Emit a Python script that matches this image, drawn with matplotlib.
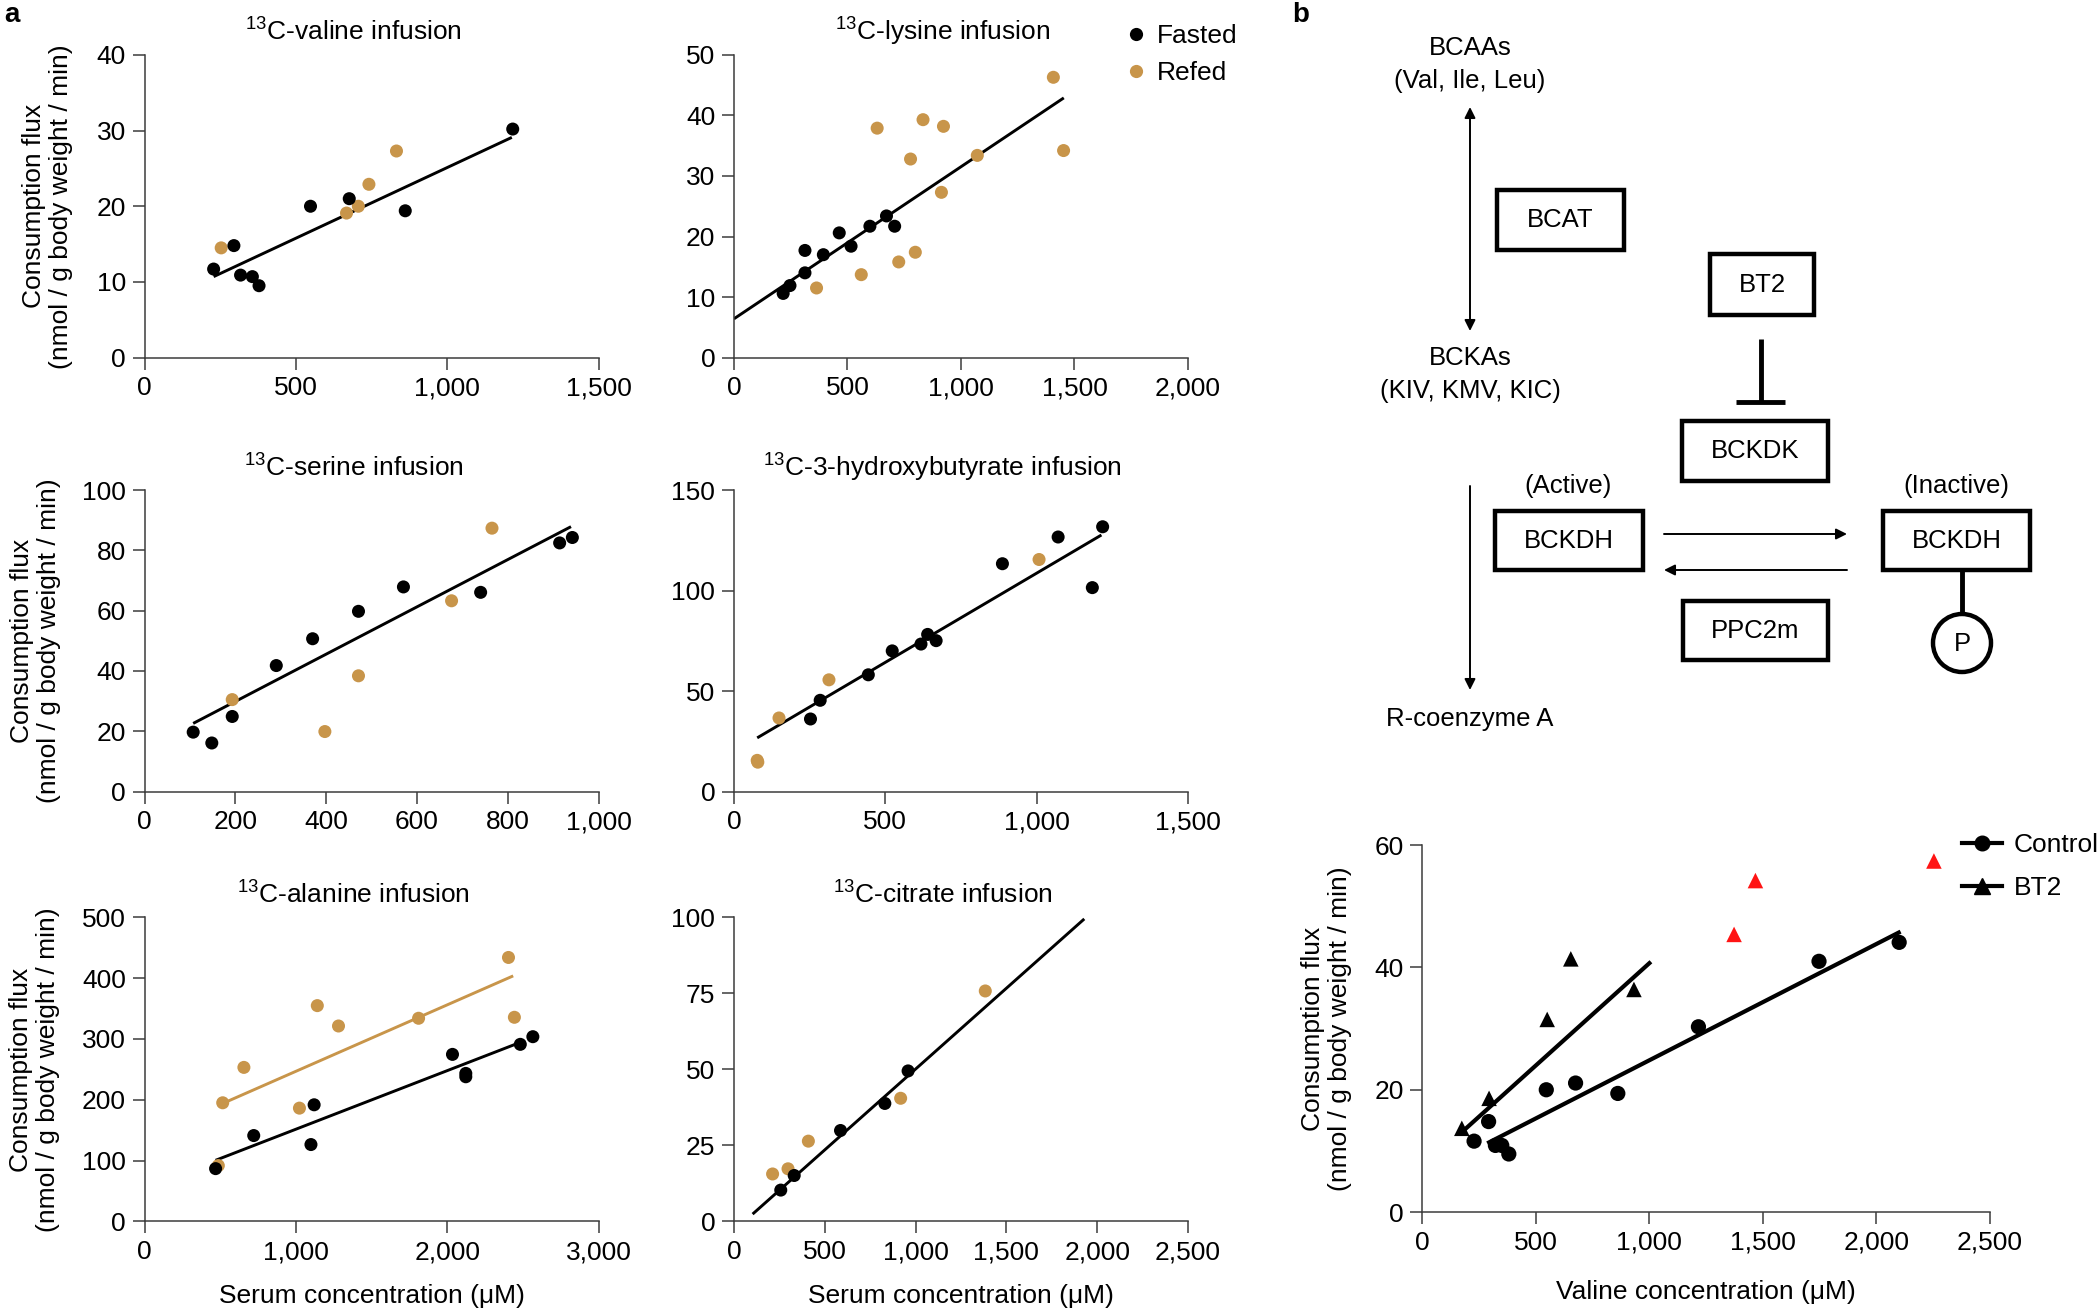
import numpy as np
import matplotlib
matplotlib.use('Agg')
import matplotlib.pyplot as plt
from matplotlib.ticker import FuncFormatter, MultipleLocator
from matplotlib.lines import Line2D
from matplotlib.patches import Rectangle, Circle

plt.rcParams['font.family'] = ['Liberation Sans', 'DejaVu Sans']
plt.rcParams['mathtext.fontset'] = 'custom'
plt.rcParams['mathtext.rm'] = 'Liberation Sans'
plt.rcParams['mathtext.default'] = 'rm'

BLACK = '#000000'
TAN = '#C8954A'
RED = '#FF1414'
AXC = '#3c3c3c'

# ---------------- data ----------------
# 13C-valine
val_fast_x = [228, 295, 317, 356, 378, 548, 676, 861, 1216]
val_fast_y = [11.7, 14.8, 10.9, 10.7, 9.5, 20.0, 21.0, 19.4, 30.2]
val_fed_x = [253, 667, 706, 741, 832]
val_fed_y = [14.5, 19.1, 20.0, 22.9, 27.3]
val_fit_x = [228, 1213]
val_fit_y = [10.7, 29.1]

# 13C-lysine
lys_fast_x = [217, 247, 313, 313, 394, 464, 516, 599, 672, 708]
lys_fast_y = [10.6, 11.9, 14.0, 17.7, 17.0, 20.6, 18.4, 21.7, 23.4, 21.7]
lys_fed_x = [364, 561, 631, 726, 778, 799, 833, 914, 923, 1072, 1407, 1452]
lys_fed_y = [11.5, 13.7, 37.9, 15.8, 32.8, 17.4, 39.3, 27.3, 38.2, 33.4, 46.3, 34.2]
lys_fit_x = [0, 1453]
lys_fit_y = [6.4, 42.9]

# 13C-serine
ser_fast_x = [107, 148, 193, 290, 370, 471, 570, 740, 914, 942]
ser_fast_y = [19.7, 16.1, 24.9, 41.8, 50.7, 59.8, 67.9, 66.1, 82.5, 84.3]
ser_fed_x = [193, 397, 471, 676, 765]
ser_fed_y = [30.5, 19.9, 38.4, 63.3, 87.4]
ser_fit_x = [107, 939]
ser_fit_y = [22.6, 87.9]

# 13C-3-hydroxybutyrate
hb_fast_x = [253, 285, 444, 523, 618, 640, 668, 887, 1071, 1184, 1218]
hb_fast_y = [36.1, 45.4, 58.1, 70.0, 73.4, 78.2, 75.1, 113.4, 126.7, 101.5, 131.8]
hb_fed_x = [77, 79, 149, 314, 1008]
hb_fed_y = [15.5, 14.6, 36.6, 55.6, 115.5]
hb_fit_x = [77, 1214]
hb_fit_y = [26.7, 127.7]

# 13C-alanine
ala_fast_x = [469, 721, 1099, 1120, 2034, 2122, 2122, 2482, 2565]
ala_fast_y = [86.8, 141.2, 126.4, 191.8, 274.7, 243.4, 237.9, 291.2, 303.8]
ala_fed_x = [487, 516, 656, 1023, 1141, 1281, 1810, 2404, 2443]
ala_fed_y = [91.8, 195.1, 253.3, 186.3, 354.9, 321.4, 334.1, 434.1, 335.7]
ala_fast_fit_x = [469, 2448]
ala_fast_fit_y = [100.5, 291.2]
ala_fed_fit_x = [516, 2435]
ala_fed_fit_y = [194.0, 403.8]

# 13C-citrate
cit_fast_x = [258, 332, 587, 831, 959]
cit_fast_y = [10.3, 15.1, 29.9, 38.8, 49.5]
cit_fed_x = [213, 298, 410, 918, 1384]
cit_fed_y = [15.6, 17.3, 26.4, 40.5, 75.8]
cit_fit_x = [103, 1929]
cit_fit_y = [2.4, 99.5]

# panel b: valine, control vs BT2
ctl_x = [228, 292, 322, 350, 381, 546, 675, 861, 1216, 1747, 2100]
ctl_y = [11.6, 14.8, 10.9, 10.9, 9.5, 20.0, 21.1, 19.4, 30.3, 41.0, 44.1]
bt2_x = [174, 294, 550, 654, 932]
bt2_y = [13.7, 18.6, 31.5, 41.4, 36.4]
bt2_red_x = [1373, 1467, 2253]
bt2_red_y = [45.4, 54.2, 57.4]
ctl_fit_x = [294, 2098]
ctl_fit_y = [11.4, 45.7]
bt2_fit_x = [172, 1000]
bt2_fit_y = [13.0, 40.7]

series_labels = ['Fasted', 'Refed']
b_labels = ['Control', 'BT2']

# ---------------- figure ----------------
W, H = 2100, 1313
fig = plt.figure(figsize=(W / 100, H / 100), dpi=100)

# diagram canvas in pixel coordinates (drawn first, underneath)
d = fig.add_axes([0, 0, 1, 1])
d.set_xlim(0, W)
d.set_ylim(H, 0)
d.axis('off')


def px_axes(x0, x1, y_top, y_bot):
    return fig.add_axes([x0 / W, 1 - y_bot / H, (x1 - x0) / W, (y_bot - y_top) / H])


comma = FuncFormatter(lambda v, p: f'{v:,.0f}')
FS = 19


def style(ax, xmax, xstep, ymax, ystep):
    for s in ['top', 'right']:
        ax.spines[s].set_visible(False)
    for s in ['left', 'bottom']:
        ax.spines[s].set_linewidth(1.1)
        ax.spines[s].set_color(AXC)
    ax.set_xlim(0, xmax)
    ax.set_ylim(0, ymax)
    ax.xaxis.set_major_locator(MultipleLocator(xstep))
    ax.yaxis.set_major_locator(MultipleLocator(ystep))
    ax.xaxis.set_major_formatter(comma)
    ax.tick_params(direction='out', length=8.5, width=1.1, color=AXC, labelsize=FS, pad=5)
    ax.patch.set_alpha(0)


def panel(ax, fast_x, fast_y, fed_x, fed_y, fits, title):
    for fx, fy, c in fits:
        ax.plot(fx, fy, color=c, lw=2.1, zorder=2, solid_capstyle='butt')
    ax.scatter(fed_x, fed_y, s=88, color=TAN, edgecolors='none', zorder=3, clip_on=False)
    ax.scatter(fast_x, fast_y, s=88, color=BLACK, edgecolors='none', zorder=4, clip_on=False)
    ax.set_title(title, fontsize=FS, pad=10, x=0.46)


YLAB = 'Consumption flux\n(nmol / g body weight / min)'
XLAB = 'Serum concentration (μM)'

colL = (144.6, 598.7)
colR = (733.9, 1188.0)
row1 = (54.9, 357.6)
row2 = (490.2, 791.5)
row3 = (917.4, 1221.4)

ax1 = px_axes(*colL, *row1)
style(ax1, 1500, 500, 40, 10)
panel(ax1, val_fast_x, val_fast_y, val_fed_x, val_fed_y,
      [(val_fit_x, val_fit_y, BLACK)], r'$^{13}$C-valine infusion')
ax1.set_ylabel(YLAB, fontsize=FS, linespacing=1.15)
ax1.yaxis.set_label_coords(-0.158, 0.5)

ax2 = px_axes(*colR, *row1)
style(ax2, 2000, 500, 50, 10)
panel(ax2, lys_fast_x, lys_fast_y, lys_fed_x, lys_fed_y,
      [(lys_fit_x, lys_fit_y, BLACK)], r'$^{13}$C-lysine infusion')

ax3 = px_axes(*colL, *row2)
style(ax3, 1000, 200, 100, 20)
panel(ax3, ser_fast_x, ser_fast_y, ser_fed_x, ser_fed_y,
      [(ser_fit_x, ser_fit_y, BLACK)], r'$^{13}$C-serine infusion')
ax3.set_ylabel(YLAB, fontsize=FS, linespacing=1.15)
ax3.yaxis.set_label_coords(-0.184, 0.5)

ax4 = px_axes(*colR, *row2)
style(ax4, 1500, 500, 150, 50)
panel(ax4, hb_fast_x, hb_fast_y, hb_fed_x, hb_fed_y,
      [(hb_fit_x, hb_fit_y, BLACK)], r'$^{13}$C-3-hydroxybutyrate infusion')

ax5 = px_axes(*colL, *row3)
style(ax5, 3000, 1000, 500, 100)
panel(ax5, ala_fast_x, ala_fast_y, ala_fed_x, ala_fed_y,
      [(ala_fed_fit_x, ala_fed_fit_y, TAN), (ala_fast_fit_x, ala_fast_fit_y, BLACK)],
      r'$^{13}$C-alanine infusion')
ax5.set_ylabel(YLAB, fontsize=FS, linespacing=1.15)
ax5.yaxis.set_label_coords(-0.186, 0.5)
ax5.set_xlabel(XLAB, fontsize=FS)
ax5.xaxis.set_label_coords(0.5, -0.205)

ax6 = px_axes(*colR, *row3)
style(ax6, 2500, 500, 100, 25)
panel(ax6, cit_fast_x, cit_fast_y, cit_fed_x, cit_fed_y,
      [(cit_fit_x, cit_fit_y, BLACK)], r'$^{13}$C-citrate infusion')
ax6.set_xlabel(XLAB, fontsize=FS)
ax6.xaxis.set_label_coords(0.5, -0.205)

# legend for panel a
h_a = [Line2D([], [], ls='none', marker='o', markersize=9.5, color=BLACK, markeredgewidth=0),
       Line2D([], [], ls='none', marker='o', markersize=9.5, color=TAN, markeredgewidth=0)]
fig.legend(h_a, series_labels, loc='upper left', bbox_to_anchor=(1128 / W, 1 - 24 / H),
           frameon=False, fontsize=FS, handlelength=0.6, handletextpad=0.5,
           labelspacing=0.5, borderpad=0, borderaxespad=0)

# panel b scatter
axb = px_axes(1422.3, 1990.0, 845.1, 1212.1)
style(axb, 2500, 500, 60, 20)
axb.plot(ctl_fit_x, ctl_fit_y, color=BLACK, lw=3.0, zorder=2)
axb.plot(bt2_fit_x, bt2_fit_y, color=BLACK, lw=3.0, zorder=2)
axb.scatter(ctl_x, ctl_y, s=120, marker='o', color=BLACK, edgecolors='none', zorder=3, clip_on=False)
axb.scatter(bt2_x, bt2_y, s=125, marker='^', color=BLACK, edgecolors='none', zorder=3, clip_on=False)
axb.scatter(bt2_red_x, bt2_red_y, s=125, marker='^', color=RED, edgecolors='none', zorder=3, clip_on=False)
axb.set_ylabel(YLAB, fontsize=FS, linespacing=1.15)
axb.yaxis.set_label_coords(-0.124, 0.5)
axb.set_xlabel('Valine concentration (μM)', fontsize=FS)
axb.xaxis.set_label_coords(0.5, -0.185)

h_b = [Line2D([], [], color=BLACK, lw=3, marker='o', markersize=10.5),
       Line2D([], [], color=BLACK, lw=3, marker='^', markersize=11)]
fig.legend(h_b, b_labels, loc='upper left', bbox_to_anchor=(1962 / W, 1 - 833 / H),
           frameon=False, fontsize=FS, handlelength=1.5, handletextpad=0.45,
           labelspacing=0.72, borderpad=0, borderaxespad=0)

# panel letters
fig.text(4 / W, 1 - 2 / H, 'a', fontsize=20, fontweight='bold', ha='left', va='top')
fig.text(1292 / W, 1 - 2 / H, 'b', fontsize=20, fontweight='bold', ha='left', va='top')

# ---------------- pathway diagram ----------------
DFS = 18.5


def box(x0, y0, x1, y1, label):
    d.add_patch(Rectangle((x0, y0), x1 - x0, y1 - y0, fill=False, lw=3.2,
                          ec=BLACK, joinstyle='miter'))
    d.text((x0 + x1) / 2, (y0 + y1) / 2, label, ha='center', va='center', fontsize=DFS)


def arrow(x0, y0, x1, y1, style='-|>'):
    d.annotate('', xy=(x1, y1), xytext=(x0, y0),
               arrowprops=dict(arrowstyle=style, color=BLACK, lw=1.4,
                               mutation_scale=16, shrinkA=0, shrinkB=0))


d.text(1470, 48, 'BCAAs', ha='center', va='center', fontsize=DFS)
d.text(1470, 81, '(Val, Ile, Leu)', ha='center', va='center', fontsize=DFS)
arrow(1470, 331, 1470, 107, style='<|-|>')
box(1497, 190, 1624, 250, 'BCAT')
box(1710, 254, 1814, 315, 'BT2')
d.plot([1760.5, 1760.5], [339, 402], color=BLACK, lw=3.5, solid_capstyle='butt')
d.plot([1736, 1785], [402, 402], color=BLACK, lw=3.5, solid_capstyle='butt')
d.text(1470, 358, 'BCKAs', ha='center', va='center', fontsize=DFS)
d.text(1470, 391, '(KIV, KMV, KIC)', ha='center', va='center', fontsize=DFS)
box(1682, 421, 1828, 481, 'BCKDK')
arrow(1470, 486, 1470, 690)
d.text(1470, 719, 'R-coenzyme A', ha='center', va='center', fontsize=DFS)
d.text(1568, 486, '(Active)', ha='center', va='center', fontsize=DFS)
box(1495, 511, 1643, 570, 'BCKDH')
arrow(1664, 534, 1847, 534)
arrow(1847, 570, 1664, 570)
d.text(1956, 486, '(Inactive)', ha='center', va='center', fontsize=DFS)
box(1883, 511, 2030, 570, 'BCKDH')
d.plot([1962, 1962], [570, 614], color=BLACK, lw=3.5, solid_capstyle='butt')
d.add_patch(Circle((1962, 643), 29, fill=False, lw=3.2, ec=BLACK))
d.text(1962, 644, 'P', ha='center', va='center', fontsize=DFS)
box(1683, 601, 1828, 660, 'PPC2m')

fig.savefig('out.png', dpi=100)
